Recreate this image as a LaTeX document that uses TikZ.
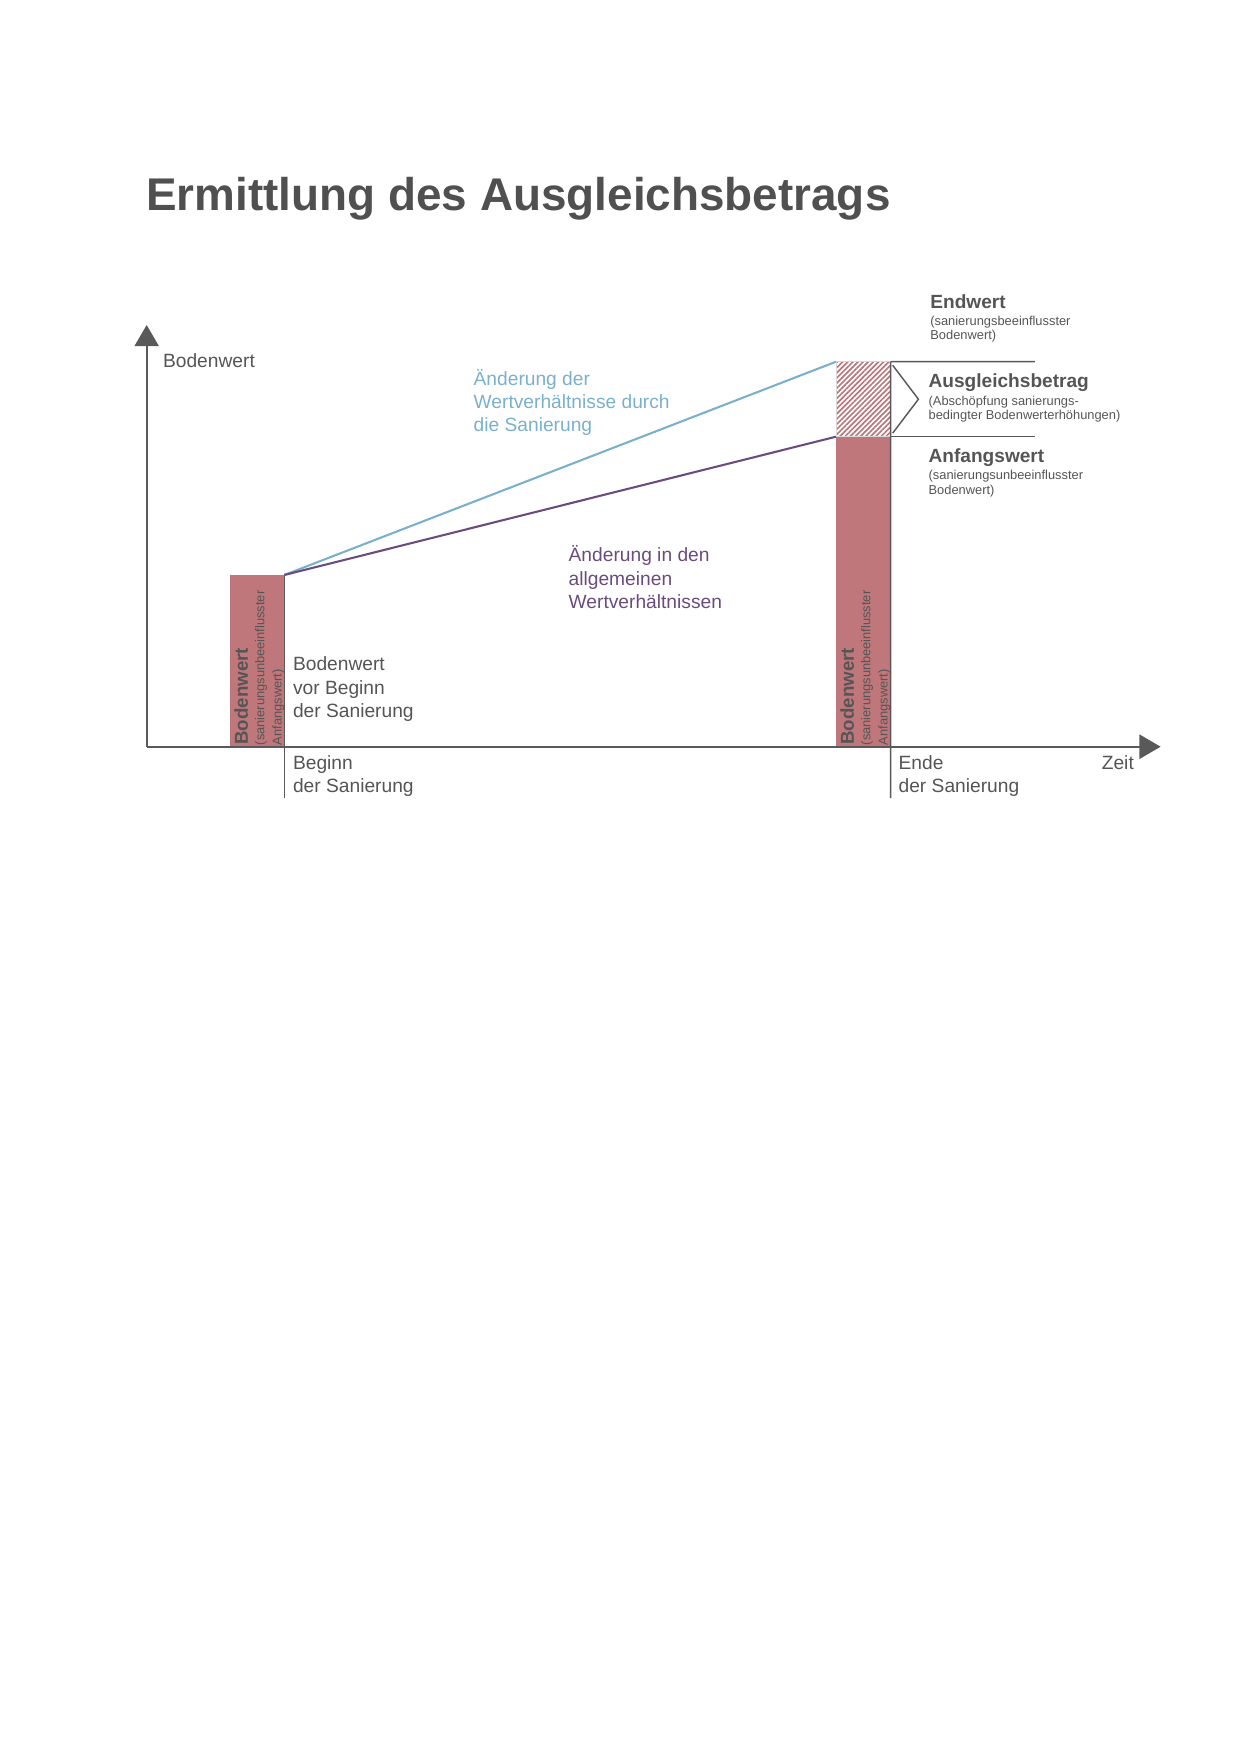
\documentclass[tikz,border=0pt]{standalone}
\usepackage{fontspec}
\setmainfont{Liberation Sans}
\usepackage{tikz}
\usetikzlibrary{arrows.meta,positioning,patterns.meta}

\definecolor{textgray}{HTML}{555555}
\definecolor{titlegray}{HTML}{505050}
\definecolor{axisgray}{HTML}{595959}
\definecolor{barred}{HTML}{BF777B}
\definecolor{hatchred}{HTML}{B9767B}
\definecolor{changeblue}{HTML}{7AB0CC}
\definecolor{changepurple}{HTML}{6A4C7C}

\begin{document}
\begin{tikzpicture}[
        txt/.style={font=\fontsize{9.25}{11.2}\selectfont, text=textgray, align=left, anchor=base west, inner sep=0pt},
        head/.style={font=\fontsize{9.2}{11}\selectfont\bfseries, text=textgray, anchor=base west, inner sep=0pt},
        sub/.style={font=\fontsize{6.2}{7.2}\selectfont, text=textgray, align=left, anchor=base west, inner sep=0pt},
        barlbl/.style={font=\fontsize{9}{10}\selectfont\bfseries, text=textgray, rotate=90, anchor=base west, inner sep=0pt},
        barsub/.style={font=\fontsize{6.2}{8.35}\selectfont, text=textgray, align=left, rotate=90, anchor=base west, inner sep=0pt},
        bar/.style={rectangle, fill=barred, draw=none, inner sep=0pt, outer sep=0pt, anchor=south west},
        hatch/.style={bar, fill=none, draw=black!15, line width=0.3pt, pattern={Lines[angle=45,distance=1.75pt,line width=0.8pt]}, pattern color=hatchred},
        axis/.style={draw=axisgray, line width=1pt, -{Triangle[length=0.36cm,width=0.41cm]}},
        tick/.style={draw=axisgray, line width=0.7pt},
        change/.style={line width=1pt}
    ]
        \useasboundingbox (-2.484,-17.059) rectangle (18.516,12.646);

        % Title
        \node[anchor=base west, inner sep=0pt, font=\fontsize{22.1}{26}\selectfont\bfseries, text=titlegray] (title) at (-0.012,9.089) {Ermittlung des Ausgleichsbetrags};

        % Bars
        \node[bar, minimum width=0.919cm, minimum height=2.908cm] (barstart) at (1.411,0) {};
        \node[bar, minimum width=0.926cm, minimum height=5.25cm] (barend) at (11.674,0) {};
        \node[hatch, minimum width=0.926cm, minimum height=1.27cm] (hatch) at (11.674,5.25) {};

        % Axes
        \coordinate (origin) at (0,0);
        \coordinate (ytop) at (0,7.142);
        \coordinate (xend) at (17.172,0);
        \draw[axis] (origin) -- (ytop);
        \draw[axis] (origin) -- (xend);

        % Ticks
        \coordinate (tickstart) at (2.330,-0.869);
        \coordinate (tickend) at (12.600,-0.869);
        \draw[tick] (barstart.north east) -- (tickstart);
        \draw[tick] (hatch.north east) -- (tickend);

        % Bracket
        \coordinate (uppertip) at (15.044,6.52);
        \coordinate (lowertip) at (15.044,5.25);
        \coordinate (chevtop) at (12.634,6.46);
        \coordinate (chevmid) at (13.07,5.885);
        \coordinate (chevbot) at (12.634,5.31);
        \draw[tick] (hatch.north east) -- (uppertip);
        \draw[tick] (hatch.south east) -- (lowertip);
        \draw[tick] (chevtop) -- (chevmid) -- (chevbot);

        % Changes
        \draw[change, changeblue] (barstart.north east) -- (hatch.north west);
        \draw[change, changepurple] (barstart.north east) -- (barend.north west);

        % Labels (multi-line: base = last line)
        \node[txt] (ylbl) at (0.271,6.425) {Bodenwert};
        \node[txt, text=changeblue] (bluelbl) at (5.531,5.335) {Änderung der\\Wertverhältnisse durch\\die Sanierung};
        \node[txt, text=changepurple] (purplelbl) at (7.140,2.343) {Änderung in den\\allgemeinen\\Wertverhältnissen};
        \node[txt] (startlbl) at (2.472,0.497) {Bodenwert\\vor Beginn\\der Sanierung};
        \node[txt] (beginlbl) at (2.472,-0.773) {Beginn\\der Sanierung};
        \node[txt] (endlbl) at (12.728,-0.773) {Ende\\der Sanierung};
        \node[txt, anchor=base east] (timelbl) at (16.725,-0.378) {Zeit};

        % Values right
        \node[head] (endwert) at (13.265,7.424) {Endwert};
        \node[sub] (endwertsub) at (13.265,6.888) {(sanierungsbeeinflusster\\Bodenwert)};
        \node[head] (ausgleich) at (13.236,6.086) {Ausgleichsbetrag};
        \node[sub] (ausgleichsub) at (13.236,5.533) {(Abschöpfung sanierungs-\\bedingter Bodenwerterhöhungen)};
        \node[head] (anfang) at (13.236,4.810) {Anfangswert};
        \node[sub] (anfangsub) at (13.236,4.275) {(sanierungsunbeeinflusster\\Bodenwert)};

        % Bar labels
        \node[barlbl] (barstartlbl) at (1.712,0.03) {Bodenwert};
        \node[barsub] (barstartsub) at (2.287,0.02) {(sanierungsunbeeinflusster\\Anfangswert)};
        \node[barlbl] (barendlbl) at (11.975,0.03) {Bodenwert};
        \node[barsub] (barendsub) at (12.550,0.02) {(sanierungsunbeeinflusster\\Anfangswert)};

    \end{tikzpicture}
\end{document}
